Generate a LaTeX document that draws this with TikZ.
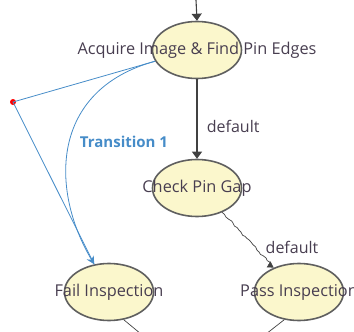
\documentclass[tikz,border=0pt]{standalone}
\usepackage{fontspec}
\setmainfont{Open Sans}
\usetikzlibrary{shapes.geometric, arrows.meta, decorations.pathmorphing}
\definecolor{stateyellow}{RGB}{251,247,204}
\definecolor{stategray}{RGB}{95,95,95}
\definecolor{labeltext}{RGB}{72,62,80}
\definecolor{transblue}{RGB}{70,140,200}
\definecolor{arrowgray}{RGB}{65,65,65}

\tikzset{
  state/.style={ellipse, draw=stategray, fill=stateyellow, line width=1.6pt,
    minimum width=89pt, minimum height=57pt, inner sep=0pt,
    font=\fontsize{16.3}{18}\selectfont, text=labeltext},
  flow/.style={arrowgray, line width=1.1pt, -{Triangle[width=10pt,length=7pt]}},
  jitter/.style={arrowgray, line width=0.7pt, -{Triangle[width=7pt,length=6pt]},
    decorate, decoration={random steps, segment length=3pt, amplitude=1pt}},
  trans/.style={transblue, line width=0.8pt},
  edgetext/.style={font=\fontsize{16}{18}\selectfont, text=labeltext}
}

\begin{document}
\begin{tikzpicture}[x=1pt, y=-1pt]
  \useasboundingbox (0,0) rectangle (354,332);
  \clip (0,0) rectangle (354,332);
  \pgfmathsetseed{7}

  % states
  \node[state] (acq) at (197,50) {\makebox[0pt]{Acquire Image \& Find Pin Edges}};
  \node[state] (check) at (197,188) {\makebox[0pt]{Check Pin Gap}};
  \node[state] (fail) at (109,292) {\makebox[0pt]{Fail Inspection}};
  \node[state] (pass) at (299,292) {\makebox[0pt]{Pass Inspection}};
  \node[circle, fill=red, minimum size=6pt, inner sep=0pt] (bend) at (13,102) {};

  \coordinate (entry) at (196,0);
  \coordinate (failout) at (141,334);
  \coordinate (passout) at (266,334);

  % default transitions
  \draw[flow] (entry) -- (acq.north);
  \draw[flow] (acq.south) -- node[edgetext, pos=0.6, right=6pt] {default} (check.north);
  \draw[jitter] (check.-44) -- (pass.136);
  \node[edgetext] (deflabel) at (292,247) {default};

  % transition 1
  \draw[trans] (acq.195) -- (bend.center) -- (fail.118);
  \draw[trans, -{Stealth[width=8pt,length=8pt]}] (acq.195) .. controls (50,90) and (50,190) .. (fail.118);
  \node[font=\bfseries\fontsize{15}{17}\selectfont, text=transblue] (tlabel) at (124,142) {Transition 1};

  % outgoing
  \draw[arrowgray, line width=0.7pt] (fail.-62) -- (failout);
  \draw[arrowgray, line width=0.7pt] (pass.-118) -- (passout);
\end{tikzpicture}
\end{document}
